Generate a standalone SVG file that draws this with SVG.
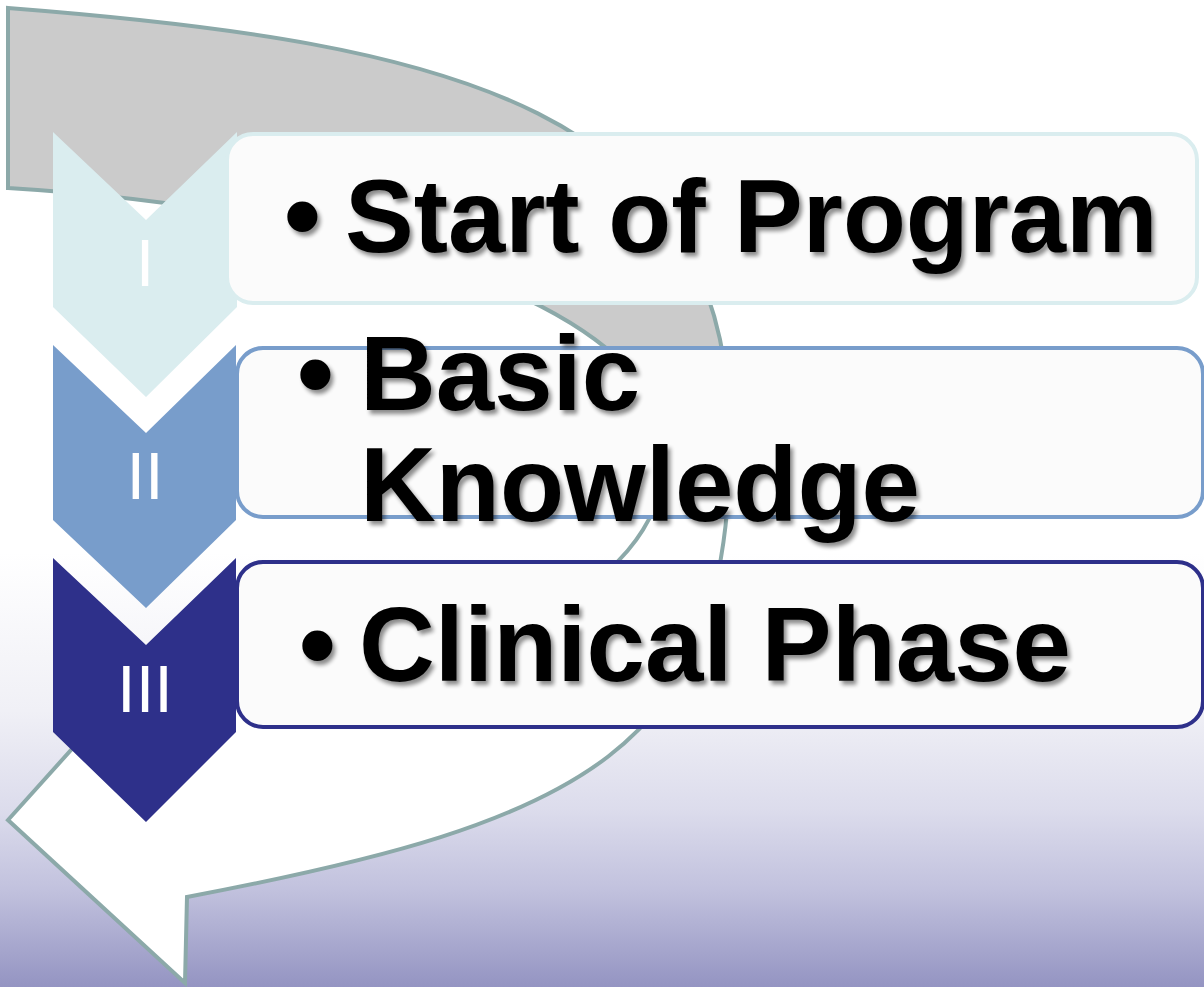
<svg xmlns="http://www.w3.org/2000/svg" width="1204" height="987" viewBox="0 0 1204 987">
  <defs>
    <linearGradient id="bg" x1="0" y1="0" x2="0" y2="987" gradientUnits="userSpaceOnUse">
      <stop offset="0" stop-color="#ffffff"/>
      <stop offset="0.56" stop-color="#ffffff"/>
      <stop offset="0.72" stop-color="#f0f0f6"/>
      <stop offset="0.82" stop-color="#dcdcec"/>
      <stop offset="0.9" stop-color="#c2c2de"/>
      <stop offset="1" stop-color="#9494c2"/>
    </linearGradient>
    <linearGradient id="arrowFill" x1="0" y1="360" x2="0" y2="500" gradientUnits="userSpaceOnUse">
      <stop offset="0" stop-color="#cbcbcb"/>
      <stop offset="1" stop-color="#ffffff"/>
    </linearGradient>
    <filter id="shadow" x="-5%" y="-20%" width="110%" height="140%">
      <feGaussianBlur in="SourceAlpha" stdDeviation="2"/>
      <feOffset dx="3" dy="4" result="o"/>
      <feComponentTransfer><feFuncA type="linear" slope="0.45"/></feComponentTransfer>
      <feMerge><feMergeNode/><feMergeNode in="SourceGraphic"/></feMerge>
    </filter>
  </defs>
  <style>
    .label { font-family: "Liberation Sans", Arial, sans-serif; font-weight: bold; font-size: 105px; fill: #000000; }
    .small { font-size: 103px; }
    .num { font-family: "Liberation Sans", Arial, sans-serif; font-size: 67px; fill: #ffffff; text-anchor: middle; }
    .box { fill: #fbfbfb; stroke-width: 4; }
  </style>

  <rect id="background" x="0" y="0" width="1204" height="987" fill="url(#bg)"/>

  <g id="connectors">
    <path id="return-arrow" d="M 8,8 C 458,43 730,110 730,440 C 730,750 587,821 187,897 L 185,983 L 8,820 L 125,690 C 450,690 668,600 665,450 C 668,320 388,211 8,188 Z" fill="url(#arrowFill)" stroke="#8ca9a9" stroke-width="4" stroke-linejoin="miter"/>
  </g>

  <g id="step1">
    <polygon points="53,132 146,220 237,132 237,307 146,397 53,307" fill="#daedef"/>
    <rect class="box" x="227" y="134" width="970" height="169" rx="26" ry="26" stroke="#daedef"/>
    <text class="num" x="145" y="286">I</text>
    <g filter="url(#shadow)">
      <text class="label" x="284" y="252">•</text>
      <text class="label small" x="345" y="252">Start of Program</text>
    </g>
  </g>

  <g id="step2">
    <polygon points="53,345 146,433 236,345 236,520 146,608 53,520" fill="#789dcb"/>
    <rect class="box" x="237" y="348" width="966" height="169" rx="26" ry="26" stroke="#789dcb"/>
    <text class="num" x="145" y="499">II</text>
    <g filter="url(#shadow)">
      <text class="label" x="297" y="410">•</text>
      <text class="label" x="360" y="410">Basic</text>
      <text class="label" x="360" y="521">Knowledge</text>
    </g>
  </g>

  <g id="step3">
    <polygon points="53,558 146,645 236,558 236,732 146,822 53,732" fill="#2e308a"/>
    <rect class="box" x="237" y="562" width="966" height="165" rx="26" ry="26" stroke="#2e308a"/>
    <text class="num" x="145" y="712">III</text>
    <g filter="url(#shadow)">
      <text class="label" x="299" y="681">•</text>
      <text class="label" x="359" y="681">Clinical Phase</text>
    </g>
  </g>
</svg>
